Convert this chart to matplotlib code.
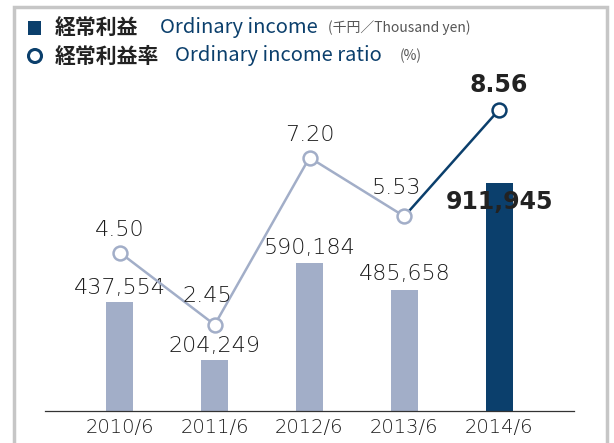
import matplotlib
matplotlib.use("Agg")
import matplotlib.pyplot as plt
from matplotlib.patches import Rectangle, Ellipse

# 経常利益 / 経常利益率
years = ["2010/6", "2011/6", "2012/6", "2013/6", "2014/6"]
income = [437554, 204249, 590184, 485658, 911945]          # 千円
income_labels = ["437,554", "204,249", "590,184", "485,658", "911,945"]
ratio = [4.50, 2.45, 7.20, 5.53, 8.56]                      # %
ratio_labels = ["4.50", "2.45", "7.20", "5.53", "8.56"]

LIGHT = "#a2aec8"
DARK = "#0b3f6c"
TXT = "#1c1c1c"
CJK = ["Noto Sans CJK JP", "DejaVu Sans"]
NUM = ["DejaVu Sans"]

plt.rcParams["font.family"] = CJK

fig = plt.figure(figsize=(6.14, 4.43), dpi=100)
fig.patch.set_facecolor("white")

# gray frame around the whole chart
fig.patches.append(Rectangle((14 / 614, -0.05), (607 - 14) / 614, 1.05 - 7 / 443,
                             transform=fig.transFigure, fill=False,
                             edgecolor="#c6c6c6", linewidth=2.5))

ax = fig.add_axes([45 / 614, 32 / 443, 529 / 614, 351 / 443])
ax2 = ax.twinx()

x = list(range(len(years)))
colors = [LIGHT] * 4 + [DARK]
ax.bar(x, income, width=0.285, color=colors, zorder=2)
ax.set_xlim(-0.79, 4.79)
ax.set_ylim(0, 351 / 0.25 * 1000)
ax2.set_ylim(0, 351 / 35.2)

# line: gray up to 2013, navy for last segment
ax2.plot(x[:4], ratio[:4], color=LIGHT, lw=1.8, zorder=3)
ax2.plot(x[3:], ratio[3:], color=DARK, lw=1.8, zorder=3)
ax2.plot(x[:4], ratio[:4], "o", ms=10, mfc="white", mec=LIGHT, mew=1.8, zorder=4)
ax2.plot(x[4:], ratio[4:], "o", ms=10, mfc="white", mec=DARK, mew=1.8, zorder=4)

for a in (ax, ax2):
    for s in ["top", "right", "left"]:
        a.spines[s].set_visible(False)
    a.set_yticks([])
ax.spines["bottom"].set_color("#333333")
ax.spines["bottom"].set_linewidth(0.9)
ax2.spines["bottom"].set_visible(False)

ax.set_xticks(x)
ax.set_xticklabels(years, fontsize=14, color=TXT, family=NUM, fontweight=200)
ax.tick_params(axis="x", length=0, pad=5)

# bar value labels
bar_offs = [10, 10, 11, 11, -14]
for i, (v, lab) in enumerate(zip(income, income_labels)):
    bold = i == 4
    ax.annotate(lab, (i, v), xytext=(0, bar_offs[i]), textcoords="offset points",
                ha="center", va="center", fontsize=17 if bold else 16,
                fontweight="bold" if bold else 200,
                color="#222222" if bold else TXT, family=NUM, zorder=5)

# ratio labels
offs = [(0, 16), (-5, 21), (0, 16.5), (-5.5, 20.5), (0, 18)]
for i, (v, lab) in enumerate(zip(ratio, ratio_labels)):
    bold = i == 4
    ax2.annotate(lab, (i, v), xytext=offs[i], textcoords="offset points",
                 ha="center", va="center", fontsize=17 if bold else 16,
                 fontweight="bold" if bold else 200,
                 color="#222222" if bold else TXT, family=NUM, zorder=5)

# legend header
fig.patches.append(Rectangle((28 / 614, 1 - 35 / 443), 13 / 614, 14 / 443,
                             transform=fig.transFigure, facecolor=DARK, edgecolor="none"))
fig.patches.append(Ellipse((35 / 614, 1 - 56 / 443), 13 / 614, 13 / 443,
                           transform=fig.transFigure, facecolor="white",
                           edgecolor=DARK, linewidth=2.2))

fig.text(55 / 614, 1 - 28 / 443, "経常利益", fontsize=15, fontweight="bold",
         color="#222222", va="center")
fig.text(160 / 614, 1 - 28 / 443, "Ordinary income", fontsize=14.5, color=DARK, va="center")
fig.text(328 / 614, 1 - 28 / 443, "(千円／Thousand yen)", fontsize=10, color="#555555", va="center")
fig.text(55 / 614, 1 - 56 / 443, "経常利益率", fontsize=15, fontweight="bold",
         color="#222222", va="center")
fig.text(175 / 614, 1 - 56 / 443, "Ordinary income ratio", fontsize=14.5, color=DARK, va="center")
fig.text(400 / 614, 1 - 56 / 443, "(%)", fontsize=10, color="#555555", va="center")

fig.savefig("out.png", dpi=100)
